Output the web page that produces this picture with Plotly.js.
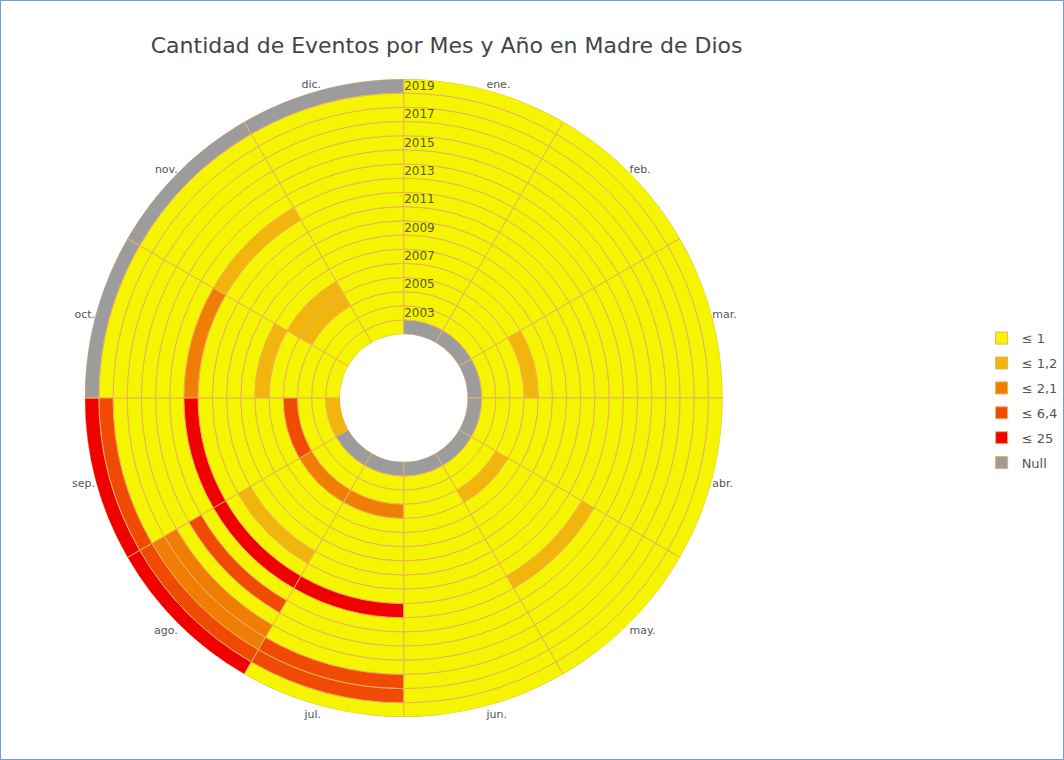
<!DOCTYPE html>
<html>
<head>
<meta charset="utf-8">
<script src="https://cdn.plot.ly/plotly-3.0.1.min.js"></script>
<style>
  html, body { margin: 0; padding: 0; background: #ffffff; }
  #frame { width: 1064px; height: 760px; box-sizing: border-box; border: 1px solid #6f9fd8; position: relative; }
  #chart { position: absolute; left: 0; top: 0; width: 1062px; height: 758px; }
</style>
</head>
<body>
<div id="frame"><div id="chart"></div></div>
<script>
// Months (angular categories)
const months = ['ene.', 'feb.', 'mar.', 'abr.', 'may.', 'jun.', 'jul.', 'ago.', 'sep.', 'oct.', 'nov.', 'dic.'];
// Years (rings, inner to outer)
const years = [2002, 2003, 2004, 2005, 2006, 2007, 2008, 2009, 2010, 2011, 2012, 2013, 2014, 2015, 2016, 2017, 2018, 2019];
// Class labels and colours
const classLabels = ['\u2264 1', '\u2264 1,2', '\u2264 2,1', '\u2264 6,4', '\u2264 25', 'Null'];
const classColors = ['#F5F500', '#F2B50C', '#F07E05', '#F04A05', '#F00000', '#9C9C9C'];
// Class index per year (row) and month (column): 0..4 = value class, 5 = Null
const cls2002 = [5, 5, 5, 5, 5, 5, 5, 5, 1, 0, 0, 0];
const cls2003 = [0, 0, 0, 0, 0, 0, 0, 0, 0, 0, 0, 0];
const cls2004 = [0, 0, 0, 0, 0, 0, 0, 0, 0, 0, 0, 0];
const cls2005 = [0, 0, 0, 0, 1, 0, 2, 2, 3, 0, 1, 0];
const cls2006 = [0, 0, 1, 0, 0, 0, 0, 0, 0, 0, 1, 0];
const cls2007 = [0, 0, 0, 0, 0, 0, 0, 0, 0, 1, 0, 0];
const cls2008 = [0, 0, 0, 0, 0, 0, 0, 0, 0, 0, 0, 0];
const cls2009 = [0, 0, 0, 0, 0, 0, 0, 0, 0, 0, 0, 0];
const cls2010 = [0, 0, 0, 0, 0, 0, 0, 1, 0, 0, 0, 0];
const cls2011 = [0, 0, 0, 0, 0, 0, 0, 0, 0, 0, 0, 0];
const cls2012 = [0, 0, 0, 0, 1, 0, 4, 4, 4, 2, 1, 0];
const cls2013 = [0, 0, 0, 0, 0, 0, 0, 0, 0, 0, 0, 0];
const cls2014 = [0, 0, 0, 0, 0, 0, 0, 3, 0, 0, 0, 0];
const cls2015 = [0, 0, 0, 0, 0, 0, 0, 0, 0, 0, 0, 0];
const cls2016 = [0, 0, 0, 0, 0, 0, 0, 2, 0, 0, 0, 0];
const cls2017 = [0, 0, 0, 0, 0, 0, 3, 2, 0, 0, 0, 0];
const cls2018 = [0, 0, 0, 0, 0, 0, 3, 3, 3, 0, 0, 0];
const cls2019 = [0, 0, 0, 0, 0, 0, 0, 4, 4, 5, 5, 5];
const classByYear = [cls2002, cls2003, cls2004, cls2005, cls2006, cls2007, cls2008, cls2009, cls2010,
                     cls2011, cls2012, cls2013, cls2014, cls2015, cls2016, cls2017, cls2018, cls2019];
// Radial tick labels shown
const yearTickLabels = ['2003', '2005', '2007', '2009', '2011', '2013', '2015', '2017', '2019'];

const sectorWidth = 360 / months.length;
const traces = classLabels.map((label, c) => {
  const r = [], base = [], theta = [], text = [];
  years.forEach((y, yi) => {
    classByYear[yi].forEach((v, mi) => {
      if (v === c) {
        r.push(1);
        base.push(yi);
        theta.push(mi * sectorWidth + sectorWidth / 2);
        text.push(months[mi] + ' ' + y);
      }
    });
  });
  return {
    type: 'barpolar',
    name: label,
    r: r, base: base, theta: theta, text: text,
    width: sectorWidth,
    legendgroup: 'g' + c,
    marker: { color: classColors[c], line: { color: '#E8B262', width: 1 } },
    hoverinfo: 'text+name'
  };
});

const tickVals = yearTickLabels.map(t => years.indexOf(+t) + 0.5);
const angVals = months.map((m, i) => i * sectorWidth + sectorWidth / 2);

const layout = {
  width: 1062, height: 758,
  margin: { l: 0, r: 0, t: 0, b: 0 },
  paper_bgcolor: '#ffffff',
  font: { family: 'DejaVu Sans, Verdana, sans-serif', color: '#555555', size: 11 },
  title: {
    text: 'Cantidad de Eventos por Mes y A\u00f1o en Madre de Dios',
    font: { family: 'DejaVu Sans, Verdana, sans-serif', size: 22, color: '#444444' },
    x: 0.141, xanchor: 'left', y: 0.942, yanchor: 'middle'
  },
  showlegend: true,
  legend: {
    x: 0.926, xanchor: 'left', y: 0.575, yanchor: 'top',
    font: { size: 13, color: '#555555' },
    tracegroupgap: 5, itemwidth: 30
  },
  polar: {
    domain: { x: [0.0790, 0.6815], y: [0.0552, 0.8974] },
    hole: 0.2,
    bgcolor: '#ffffff',
    bargap: 0,
    angularaxis: {
      rotation: 90, direction: 'clockwise',
      tickmode: 'array', tickvals: angVals, ticktext: months,
      showgrid: false, showline: false, ticks: '',
      tickfont: { size: 11, color: '#555555' }
    },
    radialaxis: {
      range: [0, years.length],
      angle: 90, side: 'clockwise', tickangle: 90,
      tickmode: 'array', tickvals: tickVals, ticktext: yearTickLabels,
      showgrid: false, showline: false, ticks: '',
      tickfont: { size: 12, color: '#5a5a20' }
    }
  }
};

Plotly.newPlot('chart', traces, layout, { displayModeBar: false, staticPlot: true });
</script>
</body>
</html>
